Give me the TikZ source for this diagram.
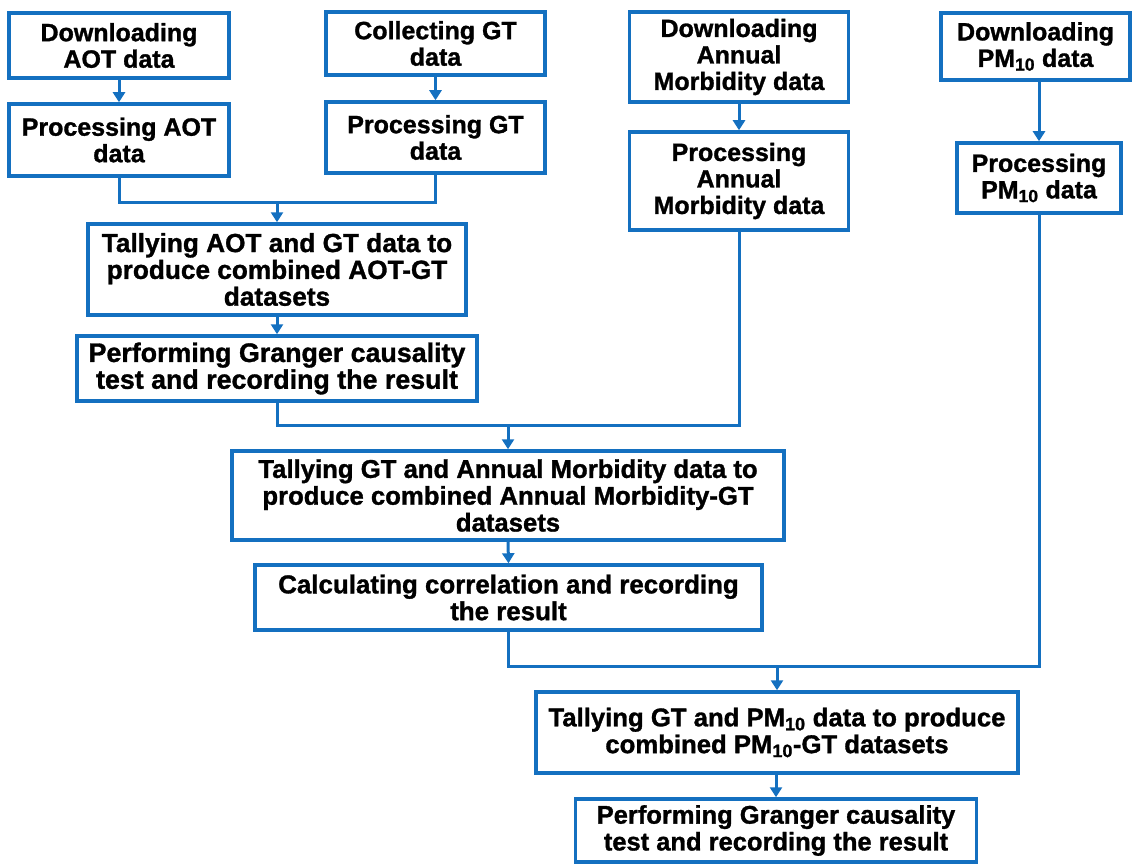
\documentclass[tikz,border=0pt]{standalone}
\usepackage{fontspec}
\setmainfont[BoldFeatures={FakeBold=1.2}]{Liberation Sans}
\usetikzlibrary{arrows.meta}
\definecolor{flowblue}{RGB}{20,112,192}
\begin{document}
\begin{tikzpicture}[x=1pt,y=-1pt,
  box/.style={draw=flowblue, line width=3.5pt, fill=white, rectangle, align=center,
    inner sep=0pt, font=\fontsize{25}{26.5}\selectfont\bfseries, text=black},
  fs/.style={font=\fontsize{#1}{26.8}\selectfont\bfseries},
  link/.style={draw=flowblue, line width=3pt},
  arr/.style={link, -{Triangle[width=12pt,length=10pt]}}
]
\useasboundingbox (0,0) rectangle (1132,864);
% top row
\node[box, minimum width=220pt, minimum height=65pt] (b1) at (119,45.5) {Downloading\\AOT data};
\node[box, minimum width=220pt, minimum height=72pt] (b2) at (119,140) {Processing AOT\\data};
\node[box, minimum width=219pt, minimum height=63pt] (b3) at (435.5,43.5) {Collecting GT\\data};
\node[box, minimum width=219pt, minimum height=71pt] (b4) at (435.5,137.5) {Processing GT\\data};
\node[box, minimum width=219pt, minimum height=90pt] (b5) at (739,57) {Downloading\\Annual\\Morbidity data};
\node[box, minimum width=219pt, minimum height=98pt] (b6) at (739,181) {Processing\\Annual\\Morbidity data};
\node[box, minimum width=189pt, minimum height=67pt] (b7) at (1035.5,46.5) {Downloading\\PM\textsubscript{10} data};
\node[box, minimum width=164pt, minimum height=70pt] (b8) at (1039,178) {Processing\\PM\textsubscript{10} data};
% middle
\node[box, fs=26.2, minimum width=378pt, minimum height=91pt] (b9) at (277,269.5) {Tallying AOT and GT data to\\produce combined AOT-GT\\datasets};
\node[box, fs=26.8, minimum width=400pt, minimum height=65pt] (b10) at (277,368.5) {Performing Granger causality\\test and recording the result};
\node[box, fs=25.7, minimum width=552pt, minimum height=89pt] (b11) at (508,495.5) {Tallying GT and Annual Morbidity data to\\produce combined Annual Morbidity-GT\\datasets};
\node[box, fs=25.9, minimum width=507pt, minimum height=65pt] (b12) at (508.5,597.5) {Calculating correlation and recording\\the result};
\node[box, fs=25.7, minimum width=482pt, minimum height=81pt] (b13) at (777,732.5) {Tallying GT and PM\textsubscript{10} data to produce\\combined PM\textsubscript{10}-GT datasets};
\node[box, fs=25.5, minimum width=401pt, minimum height=63pt] (b14) at (776,830.5) {Performing Granger causality\\test and recording the result};
% junction points
\coordinate (m1) at (277,202);
\coordinate (m2) at (508,425);
\coordinate (m3) at (777,666);
% connectors
\draw[arr] (b1.south) -- (b2.north);
\draw[arr] (b3.south) -- (b4.north);
\draw[arr] (b5.south) -- (b6.north);
\draw[arr] (b8.north |- b7.south) -- (b8.north);
\draw[link] (b2.south) |- (m1) -| (b4.south);
\draw[arr] (m1) -- (b9.north);
\draw[arr] (b9.south) -- (b10.north);
\draw[link] (b10.south) |- (m2) -| (b6.south);
\draw[arr] (m2) -- (b11.north);
\draw[arr] (b11.south) -- (b12.north);
\draw[link] (b12.south) |- (m3) -| (b8.south);
\draw[arr] (m3) -- (b13.north);
\draw[arr] (b13.south -| b14.north) -- (b14.north);
\end{tikzpicture}
\end{document}
